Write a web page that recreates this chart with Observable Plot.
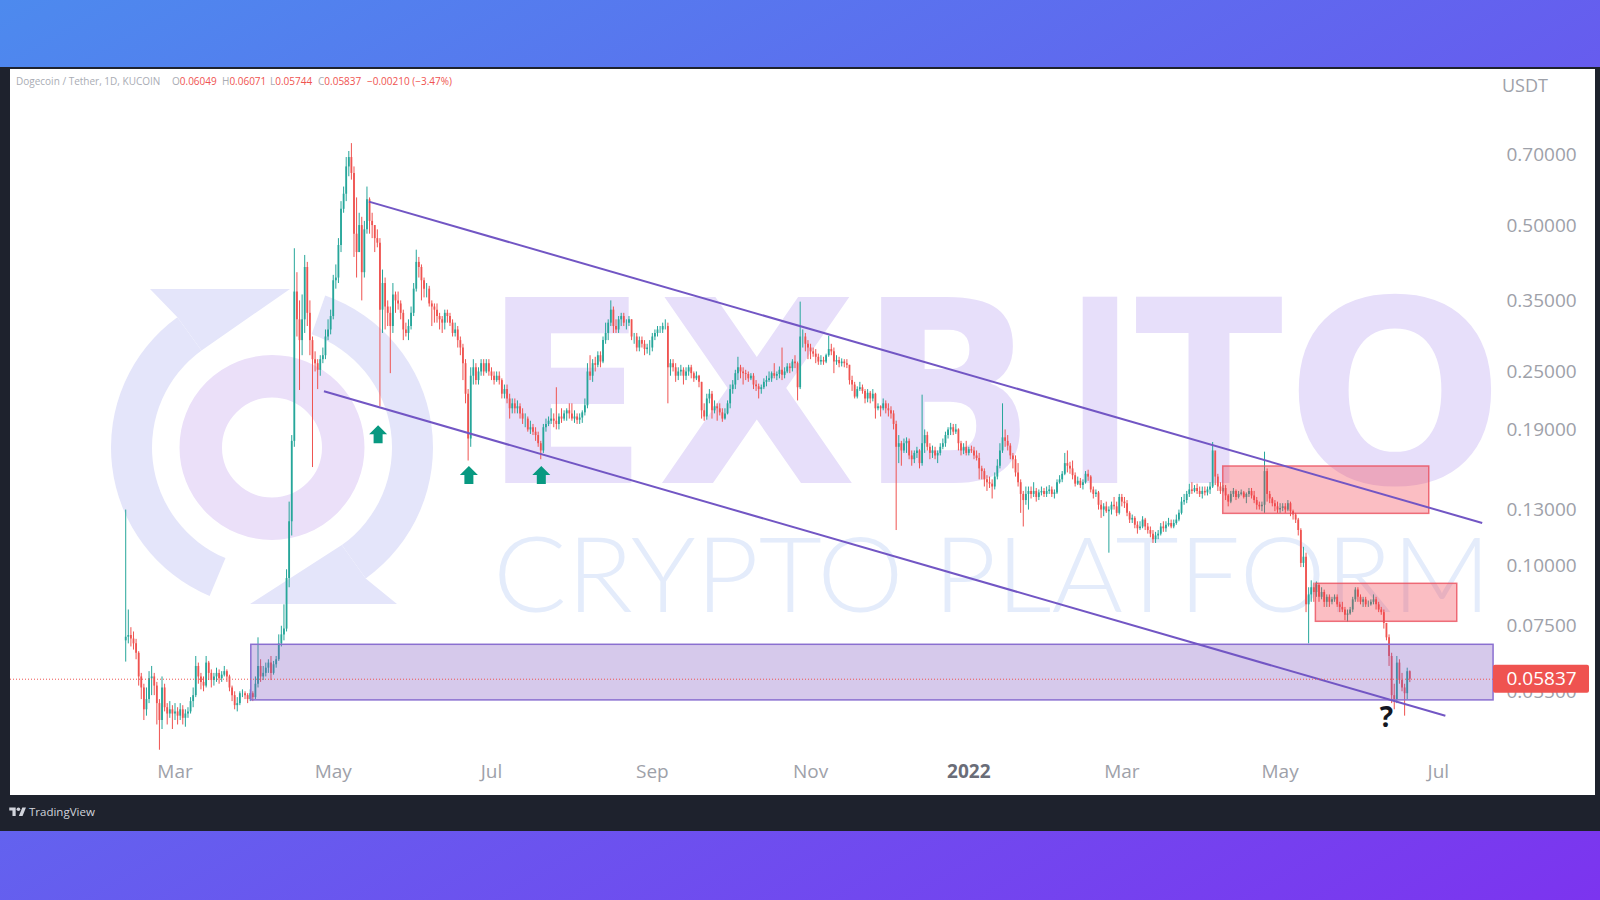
<!DOCTYPE html>
<html>
<head>
<meta charset="utf-8">
<script src="https://cdn.jsdelivr.net/npm/d3@7"></script>
<script src="https://cdn.jsdelivr.net/npm/@observablehq/plot@0.6"></script>
<style>
html,body{margin:0;padding:0;}
body{width:1600px;height:900px;overflow:hidden;position:relative;background:linear-gradient(to bottom right,#4d8aee,#7c34ef);font-family:'Open Sans',sans-serif;}
#frame{position:absolute;left:0;top:67px;width:1600px;height:764px;background:#1e222d;}
#paper{position:absolute;left:10px;top:69px;width:1585px;height:726px;background:#fff;}
#wm{position:absolute;left:0;top:0;pointer-events:none;}
#chart{position:absolute;left:10px;top:68px;width:1586px;height:727px;}
.lg{position:absolute;top:74px;font-size:10px;line-height:14px;color:#a9acb4;white-space:pre;}
.lg b{font-weight:normal;color:#ef5350;}
#usdt{position:absolute;left:1502px;top:74px;font-size:18px;line-height:22px;color:#9ea1a9;}
#tv{position:absolute;left:9px;top:803px;height:16px;display:flex;align-items:center;color:#d1d4dc;font-size:11.5px;}
</style>
</head>
<body>
<div id="frame"></div>
<div id="paper"></div>
<svg id="wm" width="1600" height="900"></svg>
<div id="chart"></div>
<div class="lg" style="left:16px">Dogecoin / Tether, 1D, KUCOIN</div>
<div class="lg" style="left:172px">O<b>0.06049</b></div>
<div class="lg" style="left:222px">H<b>0.06071</b></div>
<div class="lg" style="left:270px">L<b>0.05744</b></div>
<div class="lg" style="left:318px">C<b>0.05837</b></div>
<div class="lg" style="left:367px"><b>−0.00210 (−3.47%)</b></div>
<div id="usdt">USDT</div>
<div id="tv"><svg width="17" height="11" viewBox="0 0 36 24"><path d="M14 22H7V10H0V3h14v19zM29 22h-8l7.5-19h8L29 22z" fill="#d1d4dc"/><circle cx="20" cy="7" r="4" fill="#d1d4dc"/></svg><span style="margin-left:3px">TradingView</span></div>
<script>
// ---------------- DATA ----------------
const firstOpen = 0.0700;
const monthStarts = ["2021-02-10","2021-03-01","2021-04-01","2021-05-01","2021-06-01","2021-07-01","2021-08-01","2021-09-01","2021-10-01","2021-11-01","2021-12-01","2022-01-01","2022-02-01","2022-03-01","2022-04-01","2022-05-01","2022-06-01"];
const closes = [
 [.0712,.0718,.0706,.0690,.0660,.0590,.0560,.0505,.0530,.0585,.0590,.0565,.0520,.0480,.0560,.0510,.0495,.0505,.0495],
 [.0500,.0490,.0505,.0485,.0495,.0500,.0525,.0540,.0620,.0590,.0575,.0565,.0630,.0600,.0580,.0590,.0600,.0585,.0595,.0605,.0590,.0560,.0540,.0515,.0520,.0545,.0545,.0540,.0530,.0545,.0535],
 [.0570,.0620,.0590,.0600,.0615,.0630,.0600,.0625,.0640,.0690,.0720,.0740,.0940,.1230,.1800,.3650,.3200,.2900,.3200,.4100,.3300,.2900,.2650,.2600,.2520,.2650,.2700,.2950,.3050,.3250],
 [.3850,.3900,.4550,.5400,.5800,.6600,.6900,.6400,.4800,.4400,.5000,.4000,.4900,.5650,.5100,.5000,.4700,.4600,.3350,.3800,.3400,.3300,.3100,.3600,.3500,.3450,.3300,.3050,.3000,.3100,.3300],
 [.3700,.4200,.4100,.3850,.3700,.3700,.3450,.3400,.3350,.3250,.3200,.3150,.3300,.3250,.3150,.3000,.3050,.2900,.2800,.2600,.2250,.1820,.2450,.2550,.2400,.2500,.2600,.2500,.2600,.2500],
 [.2450,.2400,.2450,.2400,.2250,.2300,.2200,.2100,.2150,.2100,.2120,.2050,.2000,.2000,.1900,.1920,.1880,.1850,.1780,.1720,.1920,.1950,.1980,.2000,.1980,.1950,.2020,.2000,.2050,.2080,.2050],
 [.2000,.2020,.1990,.2010,.2060,.2130,.2500,.2450,.2600,.2580,.2700,.2620,.2900,.3000,.3150,.3350,.3100,.3050,.3200,.3250,.3150,.3150,.3200,.2950,.2950,.2800,.2900,.2850,.2780,.2800,.2800],
 [.2950,.3000,.3050,.3050,.3100,.3100,.2550,.2600,.2550,.2450,.2500,.2520,.2450,.2500,.2550,.2480,.2420,.2450,.2380,.2080,.2020,.2200,.2250,.2080,.2120,.2100,.2060,.2000,.2050,.2150],
 [.2300,.2350,.2480,.2550,.2500,.2480,.2470,.2420,.2450,.2350,.2330,.2300,.2320,.2380,.2400,.2420,.2480,.2450,.2470,.2520,.2460,.2500,.2560,.2540,.2620,.2600,.2320,.2950,.2950,.2850,.2800],
 [.2750,.2720,.2680,.2620,.2640,.2620,.2700,.2780,.2750,.2620,.2640,.2600,.2620,.2600,.2580,.2400,.2350,.2220,.2300,.2320,.2280,.2200,.2260,.2200,.2250,.2100,.2120,.2100,.2150,.2100],
 [.2080,.2050,.1950,.1750,.1780,.1720,.1780,.1800,.1680,.1650,.1700,.1720,.1620,.1780,.1850,.1750,.1700,.1720,.1680,.1700,.1750,.1780,.1850,.1900,.1920,.1880,.1900,.1780,.1720,.1750,.1700],
 [.1730,.1720,.1680,.1660,.1580,.1560,.1500,.1480,.1470,.1450,.1520,.1600,.1720,.1830,.1800,.1760,.1680,.1650,.1550,.1480,.1400,.1360,.1400,.1420,.1400,.1420,.1380,.1410,.1420,.1400,.1420],
 [.1430,.1400,.1410,.1480,.1500,.1540,.1620,.1600,.1580,.1530,.1470,.1490,.1460,.1480,.1540,.1520,.1430,.1400,.1410,.1330,.1300,.1320,.1290,.1300,.1330,.1320,.1280,.1380],
 [.1350,.1340,.1280,.1240,.1250,.1210,.1190,.1200,.1240,.1200,.1180,.1160,.1130,.1150,.1160,.1200,.1190,.1210,.1220,.1200,.1220,.1240,.1280,.1350,.1360,.1400,.1430,.1420,.1440,.1420,.1400],
 [.1420,.1410,.1430,.1450,.1720,.1520,.1450,.1420,.1440,.1390,.1350,.1400,.1420,.1380,.1400,.1410,.1380,.1400,.1420,.1390,.1360,.1330,.1320,.1330,.1560,.1400,.1370,.1340,.1320,.1300],
 [.1310,.1320,.1300,.1340,.1290,.1270,.1240,.1180,.1010,.1040,.0830,.0870,.0900,.0880,.0910,.0860,.0880,.0840,.0860,.0840,.0850,.0860,.0830,.0820,.0810,.0790,.0795,.0810,.0850,.0890,.0860],
 [.0840,.0850,.0830,.0830,.0840,.0850,.0830,.0810,.0800,.0760,.0710,.0650,.0540,.0530,.0630,.0580,.0560,.0545,.06049,.05837]
];
const highs = [
 [.130,.0810,.0745,.0730,.0705,.0665,.0600,.0570,.0560,.0605,.0620,.0600,.0575,.0530,.0590,.0570,.0520,.0525,.0515],
 [.0520,.0510,.0520,.0515,.0505,.0510,.0535,.0560,.0650,.0630,.0600,.0590,.0650,.0635,.0610,.0600,.0615,.0610,.0605,.0620,.0610,.0595,.0565,.0550,.0535,.0550,.0555,.0550,.0545,.0555,.0550],
 [.0590,.0710,.0640,.0620,.0630,.0640,.0650,.0635,.0650,.0720,.0750,.0830,.0980,.1350,.1850,.4480,.4000,.3500,.3600,.4340,.4200,.3500,.2950,.2750,.2650,.2700,.2800,.3050,.3200,.3350],
 [.3950,.4150,.4700,.5600,.6000,.6900,.7100,.7370,.6600,.5700,.5300,.5200,.5100,.6000,.5700,.5300,.5000,.4900,.4700,.4050,.3900,.3500,.3400,.3800,.3650,.3650,.3500,.3350,.3150,.3200,.3400],
 [.3800,.4450,.4300,.4150,.3900,.3800,.3750,.3500,.3450,.3450,.3300,.3250,.3350,.3350,.3300,.3200,.3150,.3100,.2950,.2850,.2650,.2300,.2550,.2650,.2600,.2550,.2650,.2650,.2650,.2650],
 [.2550,.2500,.2500,.2500,.2420,.2350,.2350,.2250,.2200,.2200,.2180,.2150,.2100,.2050,.2020,.1980,.1950,.1920,.1880,.1800,.1950,.2000,.2020,.2100,.2050,.2320,.2050,.2100,.2080,.2100,.2150],
 [.2150,.2080,.2050,.2050,.2080,.2200,.2600,.2700,.2650,.2680,.2750,.2750,.2950,.3150,.3200,.3500,.3400,.3200,.3250,.3300,.3300,.3200,.3250,.3200,.3000,.3000,.2950,.2950,.2900,.2850,.2900],
 [.3000,.3050,.3100,.3100,.3150,.3200,.3150,.2650,.2650,.2600,.2550,.2580,.2550,.2550,.2580,.2580,.2500,.2500,.2460,.2380,.2150,.2250,.2300,.2280,.2180,.2150,.2150,.2100,.2100,.2180],
 [.2350,.2400,.2520,.2680,.2580,.2550,.2520,.2500,.2480,.2480,.2400,.2360,.2350,.2420,.2450,.2500,.2500,.2600,.2500,.2560,.2800,.2550,.2600,.2600,.2650,.2700,.2620,.3480,.3050,.3000,.2900],
 [.2850,.2800,.2780,.2720,.2700,.2680,.2720,.2960,.2850,.2800,.2700,.2680,.2660,.2650,.2650,.2580,.2450,.2380,.2330,.2380,.2350,.2300,.2300,.2280,.2300,.2260,.2150,.2130,.2200,.2180],
 [.2150,.2120,.2080,.1980,.1850,.1800,.1820,.1830,.1820,.1720,.1720,.1750,.1730,.2240,.1900,.1880,.1780,.1760,.1750,.1720,.1780,.1820,.1880,.1920,.1960,.1950,.1950,.1910,.1800,.1780,.1800],
 [.1750,.1760,.1750,.1720,.1700,.1600,.1580,.1530,.1520,.1500,.1550,.1650,.1780,.2150,.1900,.1850,.1780,.1700,.1680,.1620,.1500,.1420,.1450,.1450,.1450,.1480,.1440,.1430,.1450,.1440,.1450],
 [.1460,.1450,.1430,.1500,.1530,.1560,.1700,.1720,.1630,.1640,.1550,.1520,.1510,.1500,.1560,.1570,.1530,.1450,.1430,.1420,.1360,.1340,.1350,.1320,.1350,.1380,.1350,.1400],
 [.1400,.1380,.1360,.1290,.1270,.1260,.1230,.1230,.1260,.1250,.1220,.1200,.1180,.1170,.1180,.1220,.1230,.1230,.1250,.1240,.1240,.1270,.1300,.1380,.1400,.1420,.1470,.1480,.1460,.1470,.1450],
 [.1450,.1450,.1450,.1480,.1790,.1700,.1540,.1480,.1460,.1460,.1400,.1420,.1440,.1430,.1420,.1430,.1420,.1410,.1440,.1440,.1420,.1380,.1350,.1350,.1710,.1580,.1420,.1380,.1360,.1350],
 [.1340,.1340,.1340,.1360,.1350,.1300,.1280,.1250,.1190,.1090,.1060,.0900,.0930,.0920,.0925,.0915,.0900,.0890,.0870,.0870,.0860,.0870,.0870,.0840,.0840,.0820,.0810,.0820,.0860,.0900,.0900],
 [.0870,.0860,.0860,.0845,.0850,.0870,.0860,.0840,.0820,.0810,.0760,.0720,.0660,.0570,.0650,.0640,.0600,.0570,.0615,.06071]
];
const lows = [
 [.0633,.0690,.0680,.0670,.0640,.0565,.0530,.0480,.0490,.0520,.0540,.0540,.0470,.0417,.0460,.0500,.0470,.0485,.0460],
 [.0480,.0470,.0480,.0470,.0465,.0485,.0495,.0510,.0535,.0570,.0555,.0550,.0560,.0580,.0560,.0565,.0575,.0570,.0575,.0590,.0575,.0550,.0525,.0505,.0500,.0515,.0535,.0530,.0520,.0525,.0525],
 [.0530,.0560,.0575,.0580,.0590,.0600,.0580,.0595,.0615,.0635,.0680,.0700,.0730,.0900,.1150,.1750,.2950,.2290,.2700,.3000,.3100,.2700,.1590,.2500,.2300,.2450,.2600,.2650,.2900,.2980],
 [.3200,.3700,.3800,.4400,.5300,.5600,.6300,.6200,.4300,.3900,.4400,.3500,.3900,.4800,.4800,.4700,.4400,.4500,.2120,.3000,.3050,.3100,.2480,.3000,.3300,.3350,.3200,.2900,.2950,.2900,.3050],
 [.3250,.3650,.3900,.3500,.3550,.3550,.3400,.3100,.3150,.3150,.3050,.3000,.3050,.3150,.3100,.2950,.2950,.2800,.2700,.2400,.2150,.1640,.1750,.2350,.2350,.2350,.2450,.2450,.2480,.2450],
 [.2400,.2350,.2380,.2350,.2200,.2200,.2150,.2000,.2050,.2050,.2050,.2000,.1950,.1920,.1880,.1860,.1850,.1800,.1750,.1650,.1700,.1880,.1930,.1950,.1920,.1900,.1900,.1960,.1980,.1980,.2000],
 [.1980,.1960,.1950,.1950,.1960,.2030,.2100,.2400,.2380,.2500,.2550,.2550,.2600,.2850,.2900,.3100,.3000,.3000,.3000,.3100,.3100,.3050,.3100,.2900,.2850,.2750,.2750,.2800,.2700,.2720,.2700],
 [.2750,.2900,.2950,.3000,.3000,.3050,.2150,.2450,.2500,.2380,.2400,.2450,.2350,.2400,.2450,.2420,.2380,.2400,.2320,.2000,.1980,.1990,.2150,.2000,.2050,.1980,.2030,.1970,.1990,.2040],
 [.2100,.2250,.2300,.2400,.2420,.2350,.2400,.2380,.2400,.2300,.2280,.2200,.2250,.2300,.2330,.2380,.2380,.2420,.2400,.2420,.2400,.2420,.2480,.2480,.2500,.2540,.2180,.2300,.2800,.2750,.2650],
 [.2650,.2680,.2600,.2580,.2580,.2580,.2600,.2680,.2700,.2480,.2580,.2550,.2560,.2550,.2540,.2350,.2280,.2200,.2200,.2280,.2250,.2150,.2160,.2150,.2170,.2000,.2080,.2020,.2080,.2050],
 [.2020,.2000,.1900,.1180,.1620,.1600,.1700,.1700,.1650,.1600,.1620,.1660,.1580,.1600,.1700,.1720,.1650,.1660,.1650,.1620,.1680,.1730,.1750,.1820,.1850,.1850,.1860,.1720,.1680,.1690,.1680],
 [.1680,.1700,.1650,.1640,.1500,.1500,.1450,.1420,.1440,.1370,.1430,.1500,.1580,.1700,.1750,.1720,.1650,.1580,.1520,.1450,.1280,.1200,.1330,.1300,.1370,.1380,.1350,.1360,.1390,.1380,.1380],
 [.1400,.1380,.1370,.1400,.1470,.1480,.1530,.1550,.1540,.1500,.1450,.1460,.1440,.1430,.1470,.1490,.1410,.1370,.1380,.1300,.1250,.1260,.1280,.1060,.1270,.1300,.1260,.1270],
 [.1320,.1310,.1260,.1220,.1220,.1190,.1160,.1180,.1190,.1180,.1160,.1140,.1110,.1110,.1130,.1150,.1170,.1170,.1200,.1190,.1190,.1210,.1230,.1270,.1330,.1340,.1380,.1400,.1410,.1400,.1380],
 [.1370,.1390,.1390,.1400,.1440,.1460,.1420,.1400,.1410,.1360,.1320,.1340,.1380,.1360,.1370,.1390,.1370,.1340,.1380,.1370,.1340,.1300,.1300,.1290,.1280,.1350,.1340,.1320,.1290,.1280],
 [.1280,.1290,.1280,.1290,.1260,.1240,.1220,.1150,.0990,.0990,.0800,.0690,.0840,.0840,.0860,.0840,.0850,.0820,.0820,.0820,.0830,.0840,.0820,.0800,.0800,.0770,.0765,.0790,.0800,.0840,.0840],
 [.0830,.0820,.0820,.0820,.0825,.0830,.0810,.0800,.0790,.0740,.0700,.0620,.0520,.0505,.0520,.0570,.0550,.0490,.0530,.05744]
];
const lastClose = 0.05837;
const yTicks = [0.055, 0.075, 0.1, 0.13, 0.19, 0.25, 0.35, 0.5, 0.7];
const xTickDates = ["2021-03-01","2021-05-01","2021-07-01","2021-09-01","2021-11-01","2022-03-01","2022-05-01","2022-07-01"];
const xTickLabels = ["Mar","May","Jul","Sep","Nov","Mar","May","Jul"];
const yearTick = {date: "2022-01-01", label: "2022"};
const trendLines = [
 {x1: "2021-05-14T18:00Z", y1: 0.560, x2: "2022-07-17T22:00Z", y2: 0.1223},
 {x1: "2021-04-27T10:00Z", y1: 0.2281, x2: "2022-07-03T17:00Z", y2: 0.0491}
];
const supportZone = [{x1: "2021-03-30T10:00Z", x2: "2022-07-22T07:00Z", y1: 0.0528, y2: 0.0687}];
const resistZones = [
 {x1: "2022-04-09T02:00Z", x2: "2022-06-27T12:00Z", y1: 0.1277, y2: 0.1598},
 {x1: "2022-05-14T19:00Z", x2: "2022-07-08T07:00Z", y1: 0.0766, y2: 0.0917}
];
const arrows = [
 {date: "2021-05-18T07:00Z", price: 0.1862},
 {date: "2021-06-22T07:00Z", price: 0.1535},
 {date: "2021-07-20T05:00Z", price: 0.1535}
];
const question = [{date: "2022-06-11T00:00Z", price: 0.0486}];

// ---------------- BUILD ----------------
const candles = [];
let prev = firstOpen;
monthStarts.forEach((ms, m) => {
  const t0 = Date.parse(ms);
  closes[m].forEach((c, i) => {
    candles.push({date: new Date(t0 + i * 864e5), open: prev, close: c, high: highs[m][i], low: lows[m][i]});
    prev = c;
  });
});
const UP = "#26a69a", DOWN = "#ef5350";
const colorOf = d => d.close >= d.open ? UP : DOWN;
const D = s => new Date(s);

const arrowSymbol = {
  draw(ctx, size) {
    const h = Math.sqrt(size / Math.PI);
    ctx.moveTo(0, -h); ctx.lineTo(h, 0); ctx.lineTo(h * 0.5, 0); ctx.lineTo(h * 0.5, h);
    ctx.lineTo(-h * 0.5, h); ctx.lineTo(-h * 0.5, 0); ctx.lineTo(-h, 0); ctx.closePath();
  }
};

function priceTag(index, scales, values, dimensions) {
  const y = scales.y(lastClose);
  const x0 = dimensions.width - dimensions.marginRight;
  const r = document.createElementNS("http://www.w3.org/2000/svg", "rect");
  r.setAttribute("x", x0); r.setAttribute("y", y - 14);
  r.setAttribute("width", 96); r.setAttribute("height", 28);
  r.setAttribute("rx", 2); r.setAttribute("fill", "#ef5350");
  return r;
}

const xTicks = xTickDates.map((d, i) => ({date: D(d), label: xTickLabels[i]}));

const chart = Plot.plot({
  width: 1586, height: 727,
  marginLeft: 0, marginRight: 103, marginTop: 0, marginBottom: 0,
  style: {background: "transparent", overflow: "visible", fontFamily: "'Open Sans', sans-serif"},
  x: {type: "utc", domain: [D("2021-03-01"), D("2022-01-01")], range: [164.5, 958.3], axis: null},
  y: {type: "log", domain: [0.1, 0.7], range: [497, 86], axis: null},
  color: {type: "identity"},
  marks: [
    Plot.ruleX(candles, {x: "date", y1: "low", y2: "high", stroke: colorOf, strokeWidth: 1}),
    Plot.ruleX(candles, {x: "date", y1: "open", y2: "close", stroke: colorOf, strokeWidth: 1.8}),
    Plot.rect(supportZone, {x1: d => D(d.x1), x2: d => D(d.x2), y1: "y1", y2: "y2", fill: "#7e57c2", fillOpacity: 0.32, stroke: "#8a6fd0", strokeWidth: 1.5}),
    Plot.rect(resistZones, {x1: d => D(d.x1), x2: d => D(d.x2), y1: "y1", y2: "y2", fill: "#f23645", fillOpacity: 0.32, stroke: "#ea4f5c", strokeOpacity: 0.8, strokeWidth: 1.5}),
    Plot.link(trendLines, {x1: d => D(d.x1), y1: "y1", x2: d => D(d.x2), y2: "y2", stroke: "#7256c4", strokeWidth: 2}),
    Plot.ruleY([lastClose], {stroke: "#ef5350", strokeWidth: 1, strokeDasharray: "1,2"}),
    Plot.dot(arrows, {x: d => D(d.date), y: "price", r: 9, symbol: arrowSymbol, fill: "#089981", stroke: "none"}),
    Plot.text(question, {x: d => D(d.date), y: "price", text: () => "?", fontSize: 28, fontWeight: "bold", fill: "#131722"}),
    Plot.text(yTicks, {y: d => d, text: d => d.toFixed(5), frameAnchor: "right", dx: 13, textAnchor: "start", fontSize: 19, fill: "#9ea1a9"}),
    Plot.text(xTicks, {x: "date", text: "label", frameAnchor: "bottom", dy: -18, fontSize: 19, fill: "#9ea1a9"}),
    Plot.text([yearTick], {x: d => D(d.date), text: "label", frameAnchor: "bottom", dy: -18, fontSize: 19, fontWeight: "bold", fill: "#6a6d78"}),
    priceTag,
    Plot.text([lastClose], {y: d => d, text: d => d.toFixed(5), frameAnchor: "right", dx: 13, textAnchor: "start", fontSize: 19, fill: "#ffffff"})
  ]
});
document.getElementById("chart").appendChild(chart);

// ---------------- WATERMARK ----------------
const wm = d3.select("#wm");
const cx = 272, cy = 447.5;
function ringPath(r0, r1, a0, a1) {
  const rad = a => a * Math.PI / 180;
  const p = (r, a) => [cx + r * Math.cos(rad(a)), cy + r * Math.sin(rad(a))];
  const large = (a1 - a0) > 180 ? 1 : 0;
  const o0 = p(r1, a0), o1 = p(r1, a1), i1 = p(r0, a1), i0 = p(r0, a0);
  return `M${o0}A${r1},${r1} 0 ${large} 1 ${o1}L${i1}A${r0},${r0} 0 ${large} 0 ${i0}Z`;
}
const ringColor = "#e4e5fa";
wm.append("path").attr("d", ringPath(120, 161, 112.8, 234)).attr("fill", ringColor);
wm.append("path").attr("d", ringPath(120, 161, -70.7, 54.4)).attr("fill", ringColor);
wm.append("polygon").attr("points", "150,289 290,289 201.5,350.4 177.4,317.2").attr("fill", ringColor);
wm.append("polygon").attr("points", "250,604 341.8,545.1 365.7,578.4 397,604").attr("fill", ringColor);
wm.append("circle").attr("cx", cx).attr("cy", cy).attr("r", 71.25).attr("fill", "none").attr("stroke", "#ebe0f9").attr("stroke-width", 42.5);
// letter, centre x, advance length
const letters = [["E", 566, 166], ["X", 757, 200], ["B", 948, 176], ["I", 1100, 68], ["T", 1209, 148], ["O", 1395, 218]];
letters.forEach(([ch, x, len]) => {
  wm.append("text").attr("x", x).attr("y", 483).attr("text-anchor", "middle")
    .attr("textLength", len).attr("lengthAdjust", "spacingAndGlyphs")
    .attr("font-family", "DejaVu Sans").attr("font-weight", "bold").attr("font-size", 255)
    .attr("fill", "#e7dffa").text(ch);
});
wm.append("text").attr("x", 493).attr("y", 612).attr("textLength", 998).attr("lengthAdjust", "spacingAndGlyphs")
  .attr("font-family", "Lato").attr("font-weight", 300).attr("font-size", 104).attr("fill", "#e4ecfb").text("CRYPTO PLATFORM");
</script>
</body>
</html>
